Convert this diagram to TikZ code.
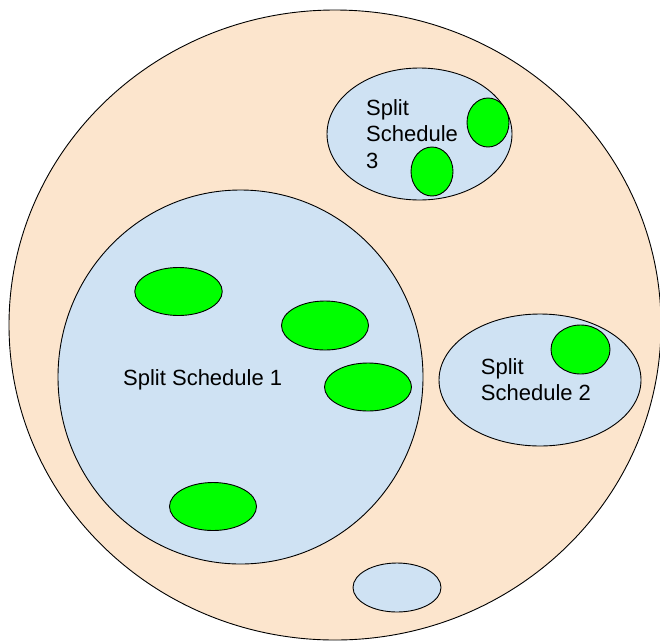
\documentclass[tikz,border=0pt]{standalone}
\usepackage{fontspec}
\setmainfont{Liberation Sans}
\usetikzlibrary{shapes.geometric}
\definecolor{peach}{HTML}{FCE5CD}
\definecolor{paleblue}{HTML}{CFE2F3}
\definecolor{leaf}{HTML}{00FF00}
\begin{document}
\begin{tikzpicture}[x=1pt,y=-1pt,
  blob/.style={ellipse,draw=black,line width=0.9pt,inner sep=0pt},
  outer/.style={blob,fill=peach},
  group/.style={blob,fill=paleblue},
  item/.style={blob,fill=leaf},
  grouptext/.style={anchor=base west,inner sep=0pt,align=left,
    font=\fontsize{22}{26.6}\selectfont}]
\useasboundingbox (0,0) rectangle (660,640);
% enclosing region
\node[outer,minimum width=652,minimum height=630] (world) at (335,325) {};
% split schedules
\node[group,minimum width=365,minimum height=374] (s1) at (240.5,377) {};
\node[group,minimum width=185,minimum height=132] (s3) at (419.5,134) {};
\node[group,minimum width=202,minimum height=132] (s2) at (540,380) {};
\node[group,minimum width=88,minimum height=49] (s4) at (397,587.5) {};
% members
\node[item,minimum width=87.5,minimum height=48] (a1) at (178.5,291.5) {};
\node[item,minimum width=87,minimum height=49] (a2) at (325,325.5) {};
\node[item,minimum width=87,minimum height=48] (a3) at (368,387) {};
\node[item,minimum width=87,minimum height=48] (a4) at (213,506.5) {};
\node[item,minimum width=42,minimum height=49] (c1) at (488,122.5) {};
\node[item,minimum width=42,minimum height=49] (c2) at (432,171.5) {};
\node[item,minimum width=59,minimum height=49] (b1) at (580.5,349.5) {};
% captions (base anchor sits on the last line)
\node[grouptext] (t1) at (123,385.7) {Split Schedule 1};
\node[grouptext] (t3) at (366,168.5) {Split\\Schedule\\3};
\node[grouptext] (t2) at (480.7,400.7) {Split\\Schedule 2};
\end{tikzpicture}
\end{document}
